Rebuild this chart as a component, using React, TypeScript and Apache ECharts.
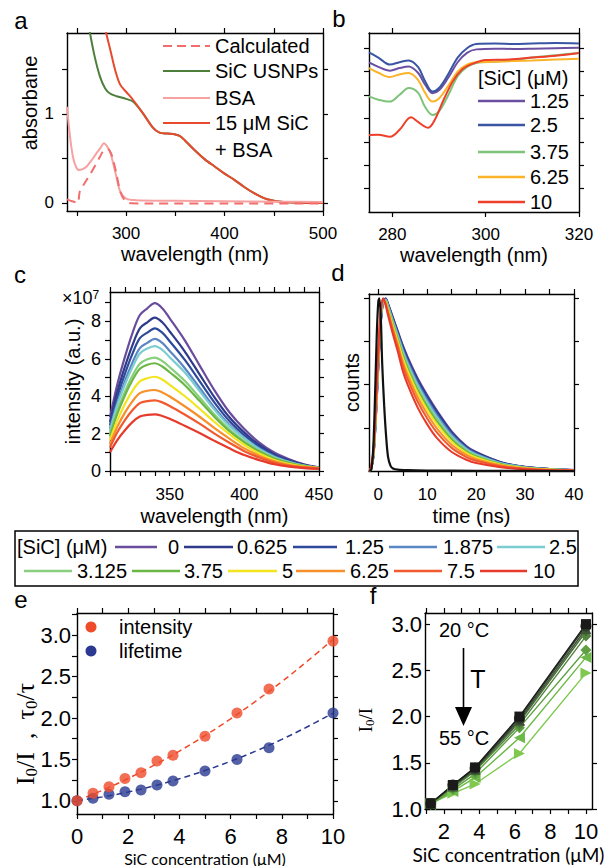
import React, { useEffect, useRef } from "react";
import * as echarts from "echarts";

const SANS = '"Liberation Sans", Arial, Helvetica, sans-serif';
const SERIF = '"Liberation Serif", "Times New Roman", serif';
const CALI = 'Lato, "Open Sans", "Liberation Sans", sans-serif';

// ---------- panel a : absorbance ----------
const aCalcX = [240, 245, 251, 253, 260, 264, 273.5, 278, 282, 286, 290, 294, 298, 303, 320, 400, 500];
const aCalcY = [0.04, 0.02, 0.0, 0.13, 0.26, 0.33, 0.52, 0.6, 0.6, 0.52, 0.34, 0.13, 0.04, 0.0, -0.005, -0.005, -0.005];
const aGreenX = [263, 268, 273.5, 278.6, 283.7, 290.4, 300, 307, 317, 327, 334, 342, 350, 355, 360, 370, 380, 390, 400, 410, 420, 430, 440, 450, 460, 475, 500];
const aGreenY = [1.93, 1.65, 1.42, 1.29, 1.23, 1.2, 1.17, 1.14, 1.01, 0.85, 0.79, 0.78, 0.77, 0.75, 0.7, 0.59, 0.49, 0.41, 0.33, 0.26, 0.18, 0.11, 0.055, 0.025, 0.01, 0.003, 0];
const aBsaX = [240, 243, 246, 249, 252, 256, 260, 265, 270, 274, 277.6, 281, 284, 287, 290, 294, 300, 310, 350, 400, 450, 500];
const aBsaY = [1.08, 0.75, 0.52, 0.41, 0.37, 0.38, 0.41, 0.48, 0.56, 0.62, 0.67, 0.63, 0.57, 0.44, 0.3, 0.13, 0.05, 0.032, 0.025, 0.02, 0.015, 0.01];
const aMixX = [279.5, 284, 289, 294, 300, 307, 317, 327, 334, 342, 350, 355, 360, 370, 380, 390, 400, 410, 420, 430, 440, 450, 460, 475, 500];
const aMixY = [1.92, 1.72, 1.49, 1.33, 1.25, 1.16, 1.01, 0.85, 0.79, 0.78, 0.77, 0.75, 0.7, 0.59, 0.49, 0.41, 0.33, 0.26, 0.18, 0.11, 0.055, 0.025, 0.01, 0.003, 0];

// ---------- panel b : difference spectra ----------
const bConc = ["1.25", "2.5", "3.75", "6.25", "10"];
const b125X = [275, 277, 279.5, 281.5, 283.5, 285.5, 287, 288.6, 290, 292, 294, 296, 298, 302, 306, 310, 315, 320];
const b125Y = [6.39, 6.2, 6.04, 6.15, 6.22, 5.95, 5.45, 5.08, 5.2, 5.75, 6.4, 6.8, 6.95, 6.98, 6.97, 6.98, 7.0, 7.02];
const b25X = [275, 277, 279.5, 281.5, 283.5, 285.5, 287, 288.6, 290, 292, 294, 296, 298, 302, 306, 310, 315, 320];
const b25Y = [6.82, 6.6, 6.3, 6.4, 6.48, 6.2, 5.6, 5.15, 5.3, 5.9, 6.6, 7.0, 7.18, 7.2, 7.18, 7.2, 7.22, 7.2];
const b375X = [275, 277, 279.5, 281.5, 283.5, 285.5, 287, 288.6, 290, 292, 294, 296, 298, 302, 306, 310, 315, 320];
const b375Y = [4.94, 4.8, 4.72, 5.0, 5.3, 5.1, 4.5, 4.15, 4.3, 5.0, 5.8, 6.2, 6.37, 6.42, 6.5, 6.6, 6.7, 6.8];
const b625X = [275, 277, 279.5, 281.5, 283.5, 285.5, 287, 288.6, 290, 292, 294, 296, 298, 302, 306, 310, 315, 320];
const b625Y = [6.15, 5.95, 5.77, 5.88, 5.94, 5.65, 5.1, 4.72, 4.85, 5.4, 6.0, 6.3, 6.4, 6.42, 6.45, 6.48, 6.52, 6.55];
const b10X = [275, 277, 279.5, 281.5, 284, 285.5, 287.7, 289, 291, 293, 295, 297, 300, 305, 310, 315, 320];
const b10Y = [3.29, 3.3, 3.22, 3.5, 4.05, 3.85, 3.6, 3.9, 4.8, 5.6, 6.1, 6.32, 6.5, 6.52, 6.6, 6.68, 6.8];
const bColors = ["#6b4fa0", "#3a55a4", "#7dc47a", "#fbb42a", "#ee3f2a"];

// ---------- panel c / d shared legend ----------
const concLabels = ["0", "0.625", "1.25", "1.875", "2.5", "3.125", "3.75", "5", "6.25", "7.5", "10"];
const concColors = ["#6a4c9c", "#2f3a8a", "#2d4a9a", "#5b86c4", "#7ccdd2", "#88cf7e", "#6bb746", "#f2e41f", "#f78f2b", "#f15a2f", "#e73a2b"];

// ---------- panel c : emission spectra (x10^7) ----------
const cWl = [310, 315, 320, 325, 330, 335, 340, 345, 350, 360, 370, 380, 390, 400, 410, 420, 430, 440, 450];
const c0 = [2.87, 4.66, 6.1, 7.36, 8.34, 8.7, 8.97, 8.7, 8.16, 7.0, 5.65, 4.31, 3.14, 2.24, 1.52, 0.99, 0.63, 0.36, 0.2];
const c0625 = [2.62, 4.26, 5.58, 6.72, 7.63, 7.95, 8.2, 7.95, 7.46, 6.4, 5.17, 3.94, 2.87, 2.05, 1.39, 0.9, 0.57, 0.33, 0.18];
const c125 = [2.44, 3.97, 5.19, 6.26, 7.1, 7.4, 7.63, 7.4, 6.94, 5.95, 4.81, 3.66, 2.67, 1.91, 1.3, 0.84, 0.53, 0.31, 0.17];
const c1875 = [2.26, 3.67, 4.8, 5.79, 6.57, 6.85, 7.06, 6.85, 6.42, 5.51, 4.45, 3.39, 2.47, 1.77, 1.2, 0.78, 0.49, 0.28, 0.16];
const c25 = [2.14, 3.54, 4.61, 5.54, 6.28, 6.55, 6.68, 6.48, 6.08, 5.28, 4.28, 3.27, 2.4, 1.74, 1.17, 0.75, 0.48, 0.29, 0.17];
const c3125 = [1.96, 3.24, 4.24, 5.09, 5.73, 5.97, 6.06, 5.88, 5.55, 4.82, 3.93, 3.02, 2.22, 1.6, 1.08, 0.7, 0.45, 0.28, 0.17];
const c375 = [1.87, 3.08, 4.04, 4.85, 5.47, 5.68, 5.76, 5.59, 5.28, 4.6, 3.75, 2.89, 2.13, 1.53, 1.04, 0.67, 0.43, 0.27, 0.16];
const c5 = [1.66, 2.72, 3.58, 4.28, 4.79, 4.96, 5.04, 4.89, 4.61, 4.01, 3.33, 2.62, 1.97, 1.39, 0.93, 0.59, 0.37, 0.24, 0.16];
const c625 = [1.43, 2.38, 3.12, 3.72, 4.16, 4.29, 4.33, 4.2, 3.98, 3.46, 2.9, 2.29, 1.73, 1.21, 0.82, 0.52, 0.32, 0.22, 0.15];
const c75 = [1.25, 2.08, 2.72, 3.25, 3.63, 3.74, 3.78, 3.67, 3.48, 3.02, 2.53, 2.0, 1.51, 1.06, 0.72, 0.45, 0.28, 0.19, 0.13];
const c10 = [1.0, 1.67, 2.18, 2.61, 2.91, 3.0, 3.03, 2.94, 2.79, 2.42, 2.03, 1.61, 1.21, 0.85, 0.58, 0.36, 0.23, 0.15, 0.11];
const cSpectra = [c0, c0625, c125, c1875, c25, c3125, c375, c5, c625, c75, c10];

// ---------- panel d : decays ----------
const dT = [-1.8, -1.5, -1, -0.5, 0, 0.5, 1, 1.5, 2, 3, 4, 5, 6, 8, 10, 12, 15, 18, 20, 25, 30, 35, 40];
const d0 = [0, 0.01, 0.08, 0.3, 0.6, 0.85, 0.98, 1.0, 0.97, 0.89, 0.81, 0.73, 0.66, 0.54, 0.44, 0.35, 0.23, 0.145, 0.11, 0.052, 0.024, 0.012, 0.006];
const d0625 = [0, 0.01, 0.082, 0.304, 0.605, 0.854, 0.981, 0.998, 0.967, 0.885, 0.804, 0.723, 0.652, 0.532, 0.432, 0.342, 0.224, 0.141, 0.107, 0.051, 0.023, 0.012, 0.006];
const d125 = [0, 0.011, 0.084, 0.308, 0.61, 0.858, 0.982, 0.996, 0.963, 0.88, 0.798, 0.715, 0.644, 0.523, 0.423, 0.334, 0.218, 0.137, 0.104, 0.049, 0.023, 0.011, 0.006];
const d1875 = [0, 0.012, 0.087, 0.314, 0.617, 0.864, 0.983, 0.993, 0.958, 0.873, 0.79, 0.705, 0.633, 0.511, 0.411, 0.323, 0.21, 0.131, 0.099, 0.047, 0.022, 0.011, 0.005];
const d25 = [0, 0.013, 0.09, 0.32, 0.625, 0.87, 0.985, 0.99, 0.953, 0.865, 0.78, 0.693, 0.62, 0.498, 0.398, 0.31, 0.2, 0.125, 0.094, 0.045, 0.021, 0.01, 0.005];
const d3125 = [0, 0.013, 0.093, 0.326, 0.633, 0.876, 0.987, 0.987, 0.947, 0.857, 0.77, 0.681, 0.607, 0.484, 0.384, 0.297, 0.19, 0.119, 0.089, 0.042, 0.019, 0.01, 0.005];
const d375 = [0, 0.014, 0.096, 0.332, 0.64, 0.882, 0.988, 0.984, 0.942, 0.85, 0.762, 0.67, 0.596, 0.472, 0.372, 0.286, 0.182, 0.113, 0.084, 0.04, 0.018, 0.009, 0.005];
const d5 = [0, 0.015, 0.1, 0.34, 0.65, 0.89, 0.99, 0.98, 0.935, 0.84, 0.75, 0.655, 0.58, 0.455, 0.355, 0.27, 0.17, 0.105, 0.078, 0.037, 0.017, 0.009, 0.005];
const d625 = [0, 0.017, 0.106, 0.352, 0.665, 0.902, 0.993, 0.974, 0.925, 0.825, 0.732, 0.633, 0.556, 0.43, 0.33, 0.246, 0.152, 0.093, 0.068, 0.033, 0.015, 0.007, 0.004];
const d75 = [0, 0.018, 0.112, 0.364, 0.68, 0.914, 0.996, 0.968, 0.914, 0.81, 0.714, 0.61, 0.532, 0.404, 0.304, 0.222, 0.134, 0.081, 0.059, 0.028, 0.013, 0.006, 0.004];
const d10 = [0, 0.02, 0.12, 0.38, 0.7, 0.93, 1.0, 0.96, 0.9, 0.79, 0.69, 0.58, 0.5, 0.37, 0.27, 0.19, 0.11, 0.065, 0.046, 0.022, 0.01, 0.005, 0.003];
const dDecays = [d0, d0625, d125, d1875, d25, d3125, d375, d5, d625, d75, d10];
const dIrfT = [-1.8, -1.4, -1, -0.6, -0.3, 0, 0.2, 0.5, 0.8, 1.2, 1.6, 2, 2.5, 3, 4, 6, 10, 20, 40];
const dIrfY = [0, 0.01, 0.15, 0.5, 0.8, 0.98, 1.0, 0.9, 0.62, 0.38, 0.2, 0.08, 0.03, 0.015, 0.008, 0.005, 0.003, 0.001, 0];

// ---------- panel e : Stern-Volmer ----------
const eConc = [0, 0.625, 1.25, 1.875, 2.5, 3.125, 3.75, 5, 6.25, 7.5, 10];
const eIntensity = [1.0, 1.09, 1.17, 1.27, 1.34, 1.48, 1.55, 1.78, 2.06, 2.35, 2.93];
const eLifetime = [1.0, 1.03, 1.08, 1.11, 1.13, 1.19, 1.24, 1.36, 1.5, 1.64, 2.06];
const eFitX = [0, 1, 2, 3, 4, 5, 6, 7, 8, 9, 10];
const eFitIntensity = [1.0, 1.128, 1.27, 1.428, 1.6, 1.788, 1.99, 2.208, 2.44, 2.688, 2.95];
const eFitLifetime = [1.0, 1.047, 1.106, 1.179, 1.266, 1.365, 1.478, 1.603, 1.742, 1.895, 2.06];

// ---------- panel f : temperature ----------
const fConc = [1.25, 2.5, 3.75, 6.25, 10];
const fTemps = ["20", "25", "30", "35", "40", "45", "50", "55"];
const f20 = [1.06, 1.26, 1.45, 2.0, 3.0];
const f25 = [1.06, 1.26, 1.44, 1.98, 2.98];
const f30 = [1.06, 1.25, 1.43, 1.96, 2.95];
const f35 = [1.06, 1.24, 1.42, 1.94, 2.92];
const f40 = [1.06, 1.23, 1.41, 1.91, 2.87];
const f45 = [1.05, 1.21, 1.38, 1.88, 2.72];
const f50 = [1.05, 1.19, 1.34, 1.77, 2.64];
const f55 = [1.06, 1.17, 1.27, 1.6, 2.47];
const fSeries = [f20, f25, f30, f35, f40, f45, f50, f55];
const fColors = ["#1a1a1a", "#2f3a2c", "#3d5534", "#486c3a", "#52843d", "#5fa043", "#6cb947", "#80c950"];
const fSymbols = ["rect", "circle", "triangle", "triangle", "diamond", "diamond", "triangle", "triangle"];
const fRotate = [0, 0, 0, 180, 0, 0, 90, -90];

const zip = (xs: number[], ys: number[]) => xs.map((x, i) => [x, ys[i]]);

function mkX(o: any) {
  const mk = (pos: string, main: boolean) => {
    const ax: any = {
      type: "value", gridIndex: o.grid, position: pos, min: o.min, max: o.max,
      axisLine: { show: true, onZero: false, lineStyle: { color: "#000", width: 1.4 } },
      axisTick: { show: true, inside: false, length: 5, customValues: o.ticks, lineStyle: { color: "#000", width: 1.2 } },
      splitLine: { show: false },
      axisLabel: { show: false },
    };
    if (main && o.labels) {
      ax.axisLabel = { show: true, customValues: o.labels, fontSize: o.fs, fontFamily: SANS, color: "#000", margin: o.margin };
      if (o.fmt) ax.axisLabel.formatter = o.fmt;
    }
    if (main && o.name) {
      Object.assign(ax, { name: o.name, nameLocation: "middle", nameGap: o.nameGap, nameMoveOverlap: false, nameTextStyle: o.nameStyle });
    }
    return ax;
  };
  return [mk("bottom", true), mk("top", false)];
}

function mkY(o: any) {
  const mk = (pos: string, main: boolean) => {
    const ax: any = {
      type: "value", gridIndex: o.grid, position: pos, min: o.min, max: o.max,
      axisLine: { show: true, onZero: false, lineStyle: { color: "#000", width: 1.4 } },
      axisTick: { show: true, inside: main ? !!o.inside : false, length: 5, customValues: o.ticks, lineStyle: { color: "#000", width: 1.2 } },
      splitLine: { show: false },
      axisLabel: { show: false },
    };
    if (main && o.labels) {
      ax.axisLabel = { show: true, customValues: o.labels, fontSize: o.fs, fontFamily: SANS, color: "#000", margin: o.margin };
      if (o.fmt) ax.axisLabel.formatter = o.fmt;
    }
    if (main && o.name) {
      Object.assign(ax, { name: o.name, nameLocation: "middle", nameGap: o.nameGap, nameRotate: 90, nameMoveOverlap: false, nameTextStyle: o.nameStyle });
    }
    return ax;
  };
  return [mk("left", true), mk("right", false)];
}

function line(g: number, xs: number[], ys: number[], color: string, extra: any = {}) {
  return {
    type: "line", xAxisIndex: g * 2, yAxisIndex: g * 2, data: zip(xs, ys),
    showSymbol: false, symbol: "none", smooth: 0.3, clip: true, silent: true,
    lineStyle: { color, width: 2 }, itemStyle: { color }, z: 2,
    ...extra,
  };
}

const nameStyle20 = { fontSize: 20, fontFamily: SANS, color: "#000", lineHeight: 20 };
const tick = (a: number, b: number, s: number) => {
  const out: number[] = [];
  for (let v = a; v <= b + 1e-9; v += s) out.push(Math.round(v * 1000) / 1000);
  return out;
};

function txt(x: number, y: number, text: string, extra: any = {}, styleExtra: any = {}) {
  return {
    type: "text", x, y, silent: true, ...extra,
    style: { text, fontSize: 20, fontFamily: SANS, fill: "#000", align: "left", verticalAlign: "middle", ...styleExtra },
  };
}
function seg(x1: number, y1: number, x2: number, y2: number, color: string, w = 2, dash?: number[]) {
  const style: any = { stroke: color, lineWidth: w };
  if (dash) style.lineDash = dash;
  return { type: "line", silent: true, shape: { x1, y1, x2, y2 }, style };
}

function buildOption() {
  const grids = [
    { left: 67, top: 33, width: 256, height: 178 },
    { left: 369, top: 33, width: 210, height: 179 },
    { left: 110, top: 292, width: 209, height: 179 },
    { left: 369, top: 294, width: 205, height: 177 },
    { left: 77, top: 613, width: 256, height: 201 },
    { left: 425, top: 613, width: 167, height: 196 },
  ].map((g) => ({ ...g, containLabel: false, outerBoundsMode: "none" }));

  const fmt1 = (v: number) => v.toFixed(1);
  const xAxis = [
    ...mkX({ grid: 0, min: 240, max: 500, labels: [300, 400, 500], ticks: [250, 300, 350, 400, 450, 500], fs: 17, margin: 14, name: "wavelength (nm)", nameGap: 33, nameStyle: nameStyle20 }),
    ...mkX({ grid: 1, min: 275, max: 320, labels: [280, 300, 320], ticks: [280, 300, 320], fs: 17, margin: 14, name: "wavelength (nm)", nameGap: 33, nameStyle: nameStyle20 }),
    ...mkX({ grid: 2, min: 310, max: 450, labels: [350, 400, 450], ticks: tick(310, 450, 10), fs: 17, margin: 15, name: "wavelength (nm)", nameGap: 35, nameStyle: nameStyle20 }),
    ...mkX({ grid: 3, min: -1.9, max: 40, labels: [0, 10, 20, 30, 40], ticks: tick(0, 40, 5), fs: 17, margin: 15, name: "time (ns)", nameGap: 35, nameStyle: nameStyle20 }),
    ...mkX({ grid: 4, min: 0, max: 10, labels: [0, 2, 4, 6, 8, 10], ticks: tick(0, 10, 1), fs: 22, margin: 11, name: "SiC concentration (μM)", nameGap: 36, nameStyle: { fontSize: 16, fontFamily: CALI, color: "#000", lineHeight: 16 } }),
    ...mkX({ grid: 5, min: 0.93, max: 10.34, labels: [2, 4, 6, 8, 10], ticks: tick(1, 10, 1), fs: 22, margin: 11, name: "SiC concentration (μM)", nameGap: 36, nameStyle: { fontSize: 19, fontFamily: CALI, color: "#000", lineHeight: 19 } }),
  ];
  const yAxis = [
    ...mkY({ grid: 0, min: -0.09, max: 1.91, labels: [0, 1], ticks: [0, 0.5, 1, 1.5], fs: 17, margin: 13 }),
    ...mkY({ grid: 1, min: 0, max: 7.65, ticks: tick(1, 7, 1) }),
    ...mkY({ grid: 2, min: 0, max: 9.57, labels: [0, 2, 4, 6, 8], ticks: tick(0, 9, 1), fs: 18, margin: 9, name: "intensity (a.u.)", nameGap: 27, nameStyle: nameStyle20 }),
    ...mkY({ grid: 3, min: 0, max: 1.025, ticks: [0.25, 0.5, 0.75, 1.0], name: "counts", nameGap: 7, nameStyle: nameStyle20 }),
    ...mkY({ grid: 4, min: 0.84, max: 3.27, labels: [1, 1.5, 2, 2.5, 3], ticks: tick(1, 3.25, 0.25), fs: 22, margin: 6, fmt: fmt1 }),
    ...mkY({ grid: 5, min: 1.0, max: 3.12, labels: [1, 1.5, 2, 2.5, 3], ticks: tick(1, 3, 0.5), fs: 22, margin: 3, fmt: fmt1, inside: true }),
  ];

  const series: any[] = [];
  // a
  series.push(line(0, aGreenX, aGreenY, "#4d7f3a", { name: "SiC USNPs" }));
  series.push(line(0, aMixX, aMixY, "#e84a2e", { name: "15 μM SiC + BSA" }));
  series.push(line(0, aBsaX, aBsaY, "#f6a2a2", { name: "BSA" }));
  series.push(line(0, aCalcX, aCalcY, "#f26d6d", { name: "Calculated", smooth: 0.2, lineStyle: { color: "#f26d6d", width: 2, type: [9, 6] } }));
  // b
  const bX = [b125X, b25X, b375X, b625X, b10X];
  const bY = [b125Y, b25Y, b375Y, b625Y, b10Y];
  bConc.forEach((c, i) => series.push(line(1, bX[i], bY[i], bColors[i], { name: "b " + c, smooth: 0.35 })));
  // c
  concLabels.forEach((c, i) => series.push(line(2, cWl, cSpectra[i], concColors[i], { name: "c " + c, smooth: 0.35, lineStyle: { color: concColors[i], width: 2.2 } })));
  // d
  concLabels.forEach((c, i) => series.push(line(3, dT, dDecays[i], concColors[i], { name: "d " + c, smooth: 0.3, lineStyle: { color: concColors[i], width: 2 } })));
  series.push(line(3, dIrfT, dIrfY, "#111", { name: "IRF", smooth: 0.3, lineStyle: { color: "#111", width: 2.2 } }));
  // e
  series.push(line(4, eFitX, eFitIntensity, "#ef4b2b", { name: "fit intensity", smooth: 0.4, lineStyle: { color: "#ef4b2b", width: 1.5, type: [6, 4] } }));
  series.push(line(4, eFitX, eFitLifetime, "#2b3990", { name: "fit lifetime", smooth: 0.4, lineStyle: { color: "#2b3990", width: 1.5, type: [6, 4] } }));
  series.push({ type: "scatter", name: "lifetime", xAxisIndex: 8, yAxisIndex: 8, data: zip(eConc, eLifetime), symbolSize: 11, itemStyle: { color: "#2b3990" }, silent: true, z: 3 });
  series.push({ type: "scatter", name: "intensity", xAxisIndex: 8, yAxisIndex: 8, data: zip(eConc, eIntensity), symbolSize: 11, itemStyle: { color: "#ef4b2b" }, silent: true, z: 4 });
  // f (draw warmest first)
  for (let i = fTemps.length - 1; i >= 0; i--) {
    series.push({
      type: "line", name: fTemps[i] + " °C", xAxisIndex: 10, yAxisIndex: 10, data: zip(fConc, fSeries[i]),
      symbol: fSymbols[i], symbolRotate: fRotate[i], symbolSize: fSymbols[i] === "rect" ? 10 : 11, showSymbol: true,
      lineStyle: { color: fColors[i], width: 1.4 }, itemStyle: { color: fColors[i] }, silent: true, z: 3,
    });
  }

  // graphic: panel letters, legends, annotations
  const g: any[] = [];
  const letter = (x: number, y: number, t: string) => txt(x, y, t, {}, { fontSize: 24, align: "center" });
  g.push(letter(21, 20, "a"), letter(339, 18, "b"), letter(20, 274, "c"), letter(338, 272, "d"), letter(21, 599, "e"), letter(373, 595, "f"));
  // a y-name
  g.push(txt(30, 103, "absorbane", { rotation: Math.PI / 2 }, { align: "center" }));
  // a legend
  g.push(seg(163, 46, 210, 46, "#f26d6d", 2.2, [9, 5]), txt(215, 46, "Calculated"));
  g.push(seg(163, 71, 210, 71, "#4d7f3a", 2.2), txt(215, 71, "SiC USNPs"));
  g.push(seg(163, 98, 210, 98, "#f6a2a2", 2.2), txt(215, 98, "BSA"));
  g.push(seg(163, 123, 210, 123, "#e84a2e", 2.2), txt(215, 123, "15 μM SiC"));
  g.push(txt(215, 150, "+ BSA"));
  // b legend
  g.push(txt(478, 78, "[SiC] (μM)"));
  const bLegY = [101, 125, 152, 177, 202];
  bConc.forEach((c, i) => g.push(seg(478, bLegY[i], 525, bLegY[i], bColors[i], 2.5), txt(530, bLegY[i], c)));
  // c multiplier
  g.push(txt(62, 298, "×10{sup|7}", {}, { fontSize: 18, rich: { sup: { fontSize: 12, verticalAlign: "top", fontFamily: SANS, fill: "#000" } } }));
  // shared legend strip
  g.push({ type: "rect", silent: true, shape: { x: 15, y: 531, width: 563, height: 55 }, style: { fill: "none", stroke: "#000", lineWidth: 1.5 } });
  g.push(txt(17, 547, "[SiC] (μM)"));
  const legPos = [
    [115, 157, 168, 547], [184, 233, 237, 547], [293, 337, 345, 547], [389, 437, 443, 547], [497, 545, 549, 547],
    [24, 72, 77, 571], [132, 180, 184, 571], [228, 277, 282, 571], [296, 345, 350, 571], [394, 442, 447, 571], [480, 527, 533, 571],
  ];
  concLabels.forEach((c, i) => {
    const [x1, x2, tx, y] = legPos[i];
    g.push(seg(x1, y, x2, y, concColors[i], 2.5), txt(tx, y, c));
  });
  // e y-name and legend
  g.push(txt(25, 734, "{i|I}{s|0}{i|/I  ,  τ}{s|0}{i|/τ}", { rotation: Math.PI / 2 }, {
    align: "center", fontFamily: SERIF, fontSize: 26,
    rich: { i: { fontSize: 26, fontFamily: SERIF, fill: "#000", lineHeight: 30 }, s: { fontSize: 17, fontFamily: SERIF, fill: "#000", verticalAlign: "bottom" } },
  }));
  g.push({ type: "circle", silent: true, shape: { cx: 91, cy: 627, r: 5.5 }, style: { fill: "#ef4b2b" } }, txt(119, 627, "intensity"));
  g.push({ type: "circle", silent: true, shape: { cx: 91, cy: 651, r: 5.5 }, style: { fill: "#2b3990" } }, txt(119, 651, "lifetime"));
  // f y-name and annotations
  g.push(txt(365, 720, "{i|I}{s|0}{i|/I}", { rotation: Math.PI / 2 }, {
    align: "center", fontFamily: SERIF, fontSize: 19,
    rich: { i: { fontSize: 19, fontFamily: SERIF, fill: "#000", lineHeight: 22 }, s: { fontSize: 13, fontFamily: SERIF, fill: "#000", verticalAlign: "bottom" } },
  }));
  g.push(txt(464, 630, "20 °C", {}, { align: "center" }));
  g.push(seg(463.5, 648, 463.5, 712, "#000", 1.6));
  g.push({ type: "polygon", silent: true, shape: { points: [[455, 707], [472, 707], [463.5, 726]] }, style: { fill: "#000" } });
  g.push(txt(478, 679, "T", {}, { align: "center", fontSize: 25 }));
  g.push(txt(464, 738, "55 °C", {}, { align: "center" }));

  return {
    animation: false,
    backgroundColor: "#fff",
    textStyle: { fontFamily: SANS },
    grid: grids,
    xAxis,
    yAxis,
    series,
    graphic: { elements: g },
  };
}

export default function App() {
  const ref = useRef<HTMLDivElement>(null);
  useEffect(() => {
    if (!ref.current) return;
    const chart = echarts.init(ref.current, undefined, { renderer: "svg" });
    chart.setOption(buildOption() as any);
    return () => chart.dispose();
  }, []);
  return <div ref={ref} style={{ position: "absolute", left: 0, top: 0, width: 604, height: 866, background: "#fff" }} />;
}
